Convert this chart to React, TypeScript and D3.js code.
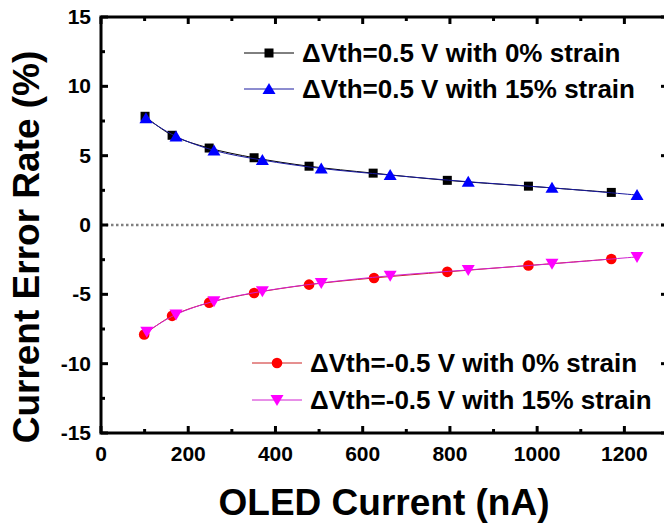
import React from 'react'
import * as d3 from 'd3'

// OLED current (nA) and error rate (%) per series
const posNoStrainX = [101, 163, 248, 351, 477, 624, 794, 980, 1170]
const posNoStrainY = [7.84, 6.47, 5.55, 4.85, 4.24, 3.74, 3.22, 2.8, 2.35]
const posStrainX = [103, 172, 259, 370, 505, 663, 842, 1034, 1229]
const posStrainY = [7.7, 6.38, 5.38, 4.68, 4.08, 3.6, 3.12, 2.68, 2.16]
const negNoStrainX = [99, 163, 248, 351, 477, 626, 794, 980, 1170]
const negNoStrainY = [-7.9, -6.55, -5.6, -4.9, -4.3, -3.82, -3.38, -2.92, -2.45]
const negStrainX = [105, 172, 259, 370, 505, 663, 842, 1034, 1229]
const negStrainY = [-7.7, -6.45, -5.5, -4.78, -4.18, -3.66, -3.24, -2.8, -2.3]

const xTicks = [0, 200, 400, 600, 800, 1000, 1200]
const yTicks = [-15, -10, -5, 0, 5, 10, 15]
const xMinor = [100, 300, 500, 700, 900, 1100]
const yMinor = [-12.5, -7.5, -2.5, 2.5, 7.5, 12.5]

const legendTop = ['\u0394Vth=0.5 V with 0% strain', '\u0394Vth=0.5 V with 15% strain']
const legendBottom = ['\u0394Vth=-0.5 V with 0% strain', '\u0394Vth=-0.5 V with 15% strain']

const W = 664
const H = 523
const FONT = '"Liberation Sans", Arial, sans-serif'

const x = d3.scaleLinear().domain([0, 1300]).range([101, 668])
const y = d3.scaleLinear().domain([-15, 15]).range([433, 17])

const series = [
  { xs: posNoStrainX, ys: posNoStrainY, color: '#000000', line: '#000000', marker: 'square' },
  { xs: posStrainX, ys: posStrainY, color: '#0000ff', line: '#1a1aa0', marker: 'up' },
  { xs: negNoStrainX, ys: negNoStrainY, color: '#ff0000', line: '#cc2020', marker: 'circle' },
  { xs: negStrainX, ys: negStrainY, color: '#ff00ff', line: '#d020d0', marker: 'down' },
]

const Marker = ({ type, cx, cy, color }: { type: string; cx: number; cy: number; color: string }) => {
  if (type === 'square') return <rect x={cx - 4.5} y={cy - 4.5} width={9} height={9} fill={color} />
  if (type === 'circle') return <circle cx={cx} cy={cy} r={5.3} fill={color} />
  if (type === 'up') return <path d={`M${cx},${cy - 6} L${cx + 6.5},${cy + 5} L${cx - 6.5},${cy + 5} Z`} fill={color} />
  return <path d={`M${cx},${cy + 6} L${cx + 6.5},${cy - 5} L${cx - 6.5},${cy - 5} Z`} fill={color} />
}

export default function App() {
  const line = d3.line<number[]>().x(d => x(d[0])).y(d => y(d[1])).curve(d3.curveCatmullRom)
  const x0 = x(0), x1 = x(1300), y0 = y(-15), y1 = y(15)

  const legend = (labels: string[], items: typeof series, lx: number, ly: number[]) =>
    labels.map((t, i) => (
      <g key={t}>
        <line x1={lx} x2={lx + 50} y1={ly[i]} y2={ly[i]} stroke={items[i].line} strokeWidth={1} />
        <Marker type={items[i].marker} cx={lx + 25} cy={ly[i]} color={items[i].color} />
        <text x={lx + 58} y={ly[i] + 9} fontSize={26} fontWeight="bold" fontFamily={FONT}>{t}</text>
      </g>
    ))

  return (
    <div style={{ position: 'fixed', left: 0, top: 0 }}>
      <svg width={W} height={H} style={{ display: 'block', background: '#fff' }}>
        {/* zero reference */}
        <line x1={x0} x2={x1} y1={y(0)} y2={y(0)} stroke="#808080" strokeWidth={2.5} strokeDasharray="2.5,2.5" />

        {series.map((s, i) => {
          const pts = s.xs.map((v, j) => [v, s.ys[j]])
          return (
            <g key={i}>
              <path d={line(pts) || ''} fill="none" stroke={s.line} strokeWidth={1} />
              {pts.map((p, j) => <Marker key={j} type={s.marker} cx={x(p[0])} cy={y(p[1])} color={s.color} />)}
            </g>
          )
        })}

        {/* frame */}
        <rect x={x0} y={y1} width={x1 - x0} height={y0 - y1} fill="none" stroke="#000" strokeWidth={3} />

        {xTicks.map(t => (
          <g key={'x' + t}>
            <line x1={x(t)} x2={x(t)} y1={y0} y2={y0 - 7} stroke="#000" strokeWidth={3} />
            <line x1={x(t)} x2={x(t)} y1={y1} y2={y1 + 7} stroke="#000" strokeWidth={3} />
            <text x={x(t)} y={y0 + 28} textAnchor="middle" fontSize={21} fontWeight="bold" fontFamily={FONT}>{t}</text>
          </g>
        ))}
        {xMinor.map(t => (
          <g key={'xm' + t}>
            <line x1={x(t)} x2={x(t)} y1={y0} y2={y0 - 4} stroke="#000" strokeWidth={3} />
            <line x1={x(t)} x2={x(t)} y1={y1} y2={y1 + 4} stroke="#000" strokeWidth={3} />
          </g>
        ))}
        {yTicks.map(t => (
          <g key={'y' + t}>
            <line x1={x0} x2={x0 + 7} y1={y(t)} y2={y(t)} stroke="#000" strokeWidth={3} />
            <line x1={x1} x2={x1 - 7} y1={y(t)} y2={y(t)} stroke="#000" strokeWidth={3} />
            <text x={x0 - 10} y={y(t) + 7} textAnchor="end" fontSize={21} fontWeight="bold" fontFamily={FONT}>{t}</text>
          </g>
        ))}
        {yMinor.map(t => (
          <g key={'ym' + t}>
            <line x1={x0} x2={x0 + 4} y1={y(t)} y2={y(t)} stroke="#000" strokeWidth={3} />
            <line x1={x1} x2={x1 - 4} y1={y(t)} y2={y(t)} stroke="#000" strokeWidth={3} />
          </g>
        ))}

        {legend(legendTop, series.slice(0, 2), 244, [53, 89])}
        {legend(legendBottom, series.slice(2, 4), 252, [363, 400])}

        <text x={384} y={515} textAnchor="middle" fontSize={37} fontWeight="bold" fontFamily={FONT}>OLED Current (nA)</text>
        <text transform={`translate(39,247) rotate(-90)`} textAnchor="middle" fontSize={37} fontWeight="bold" fontFamily={FONT}>Current Error Rate (%)</text>
      </svg>
    </div>
  )
}
